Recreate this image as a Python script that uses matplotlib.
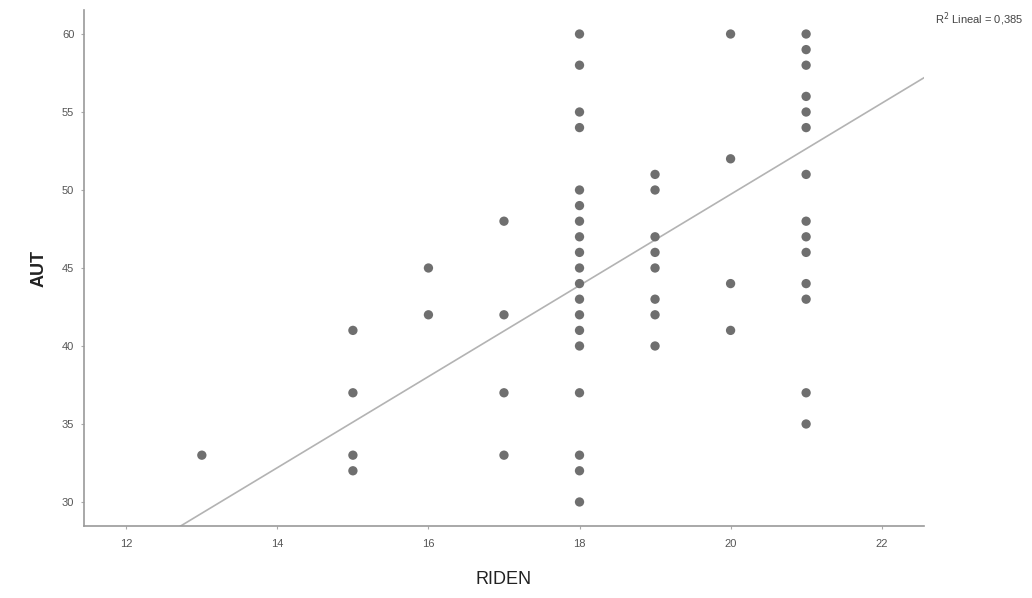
import numpy as np
import matplotlib.pyplot as plt

plt.rcParams['font.family'] = ['Liberation Sans', 'DejaVu Sans']

# puntos (RIDEN, AUT)
riden_13 = [33]
riden_15 = [41, 37, 33, 32]
riden_16 = [45, 42]
riden_17 = [48, 42, 37, 33]
riden_18 = [60, 58, 55, 54, 50, 49, 48, 47, 46, 45, 44, 43, 42, 41, 40, 37, 33, 32, 30]
riden_19 = [51, 50, 47, 46, 45, 43, 42, 40]
riden_20 = [60, 52, 44, 41]
riden_21 = [60, 59, 58, 56, 55, 54, 51, 48, 47, 46, 44, 43, 37, 35]

grupos = {13: riden_13, 15: riden_15, 16: riden_16, 17: riden_17,
          18: riden_18, 19: riden_19, 20: riden_20, 21: riden_21}
x = np.array([k for k, v in grupos.items() for _ in v], dtype=float)
y = np.array([a for v in grupos.values() for a in v], dtype=float)

# recta de ajuste tal como aparece (hay puntos superpuestos que no se ven)
pendiente = 2.92
intercepto = -8.68

x_ticks = [12, 14, 16, 18, 20, 22]
y_ticks = [30, 35, 40, 45, 50, 55, 60]
r2_text = "R$^2$ Lineal = 0,385"

fig = plt.figure(figsize=(10.32, 5.98), dpi=100)
ax = fig.add_axes([0.0814, 0.1204, 0.8139, 0.8629])

ax.scatter(x, y, s=45, color='#6f6f6f', edgecolors='none', zorder=3)

xlim = (11.44, 22.56)
ylim = (28.46, 61.54)
xl = np.array(xlim)
ax.plot(xl, pendiente * xl + intercepto, color='#b3b3b3', lw=1.2, zorder=2)

ax.set_xlim(*xlim)
ax.set_ylim(*ylim)
ax.set_xticks(x_ticks)
ax.set_yticks(y_ticks)
ax.tick_params(length=2, color='#aaaaaa', labelsize=8, labelcolor='#555555')
ax.tick_params(axis='y', pad=5)
ax.tick_params(axis='x', pad=7)

for s in ['top', 'right']:
    ax.spines[s].set_visible(False)
for s in ['left', 'bottom']:
    ax.spines[s].set_color('#9a9a9a')
    ax.spines[s].set_linewidth(1.2)

ax.set_xlabel("RIDEN", fontsize=13, color='#222222', labelpad=16)
ax.set_ylabel("AUT", fontsize=13, color='#222222', labelpad=10, fontweight='bold')

fig.text(0.991, 0.968, r2_text, fontsize=8, color='#444444', ha='right', va='center')

fig.savefig("out.png", dpi=100)
